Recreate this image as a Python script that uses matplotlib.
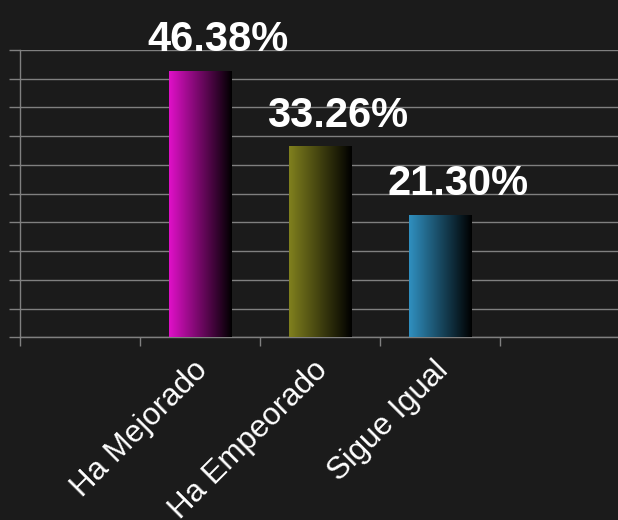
import numpy as np
import matplotlib
matplotlib.use('Agg')
import matplotlib.pyplot as plt
import matplotlib.transforms as mtransforms
from matplotlib.colors import LinearSegmentedColormap

categories = ['Ha Mejorado', 'Ha Empeorado', 'Sigue Igual']
values = [46.38, 33.26, 21.30]
labels = ['46.38%', '33.26%', '21.30%']
bar_colors = ['#e010c8', '#80801e', '#3090c0']

bg = '#1b1b1b'
grid_col = '#808080'
plt.rcParams['font.family'] = ['Liberation Sans', 'DejaVu Sans']

fig = plt.figure(figsize=(6.18, 5.2), dpi=100, facecolor=bg)
ax = fig.add_axes([20 / 618, (520 - 337.3) / 520, 598 / 618, 287.3 / 520])
ax.set_facecolor(bg)

x = np.arange(1, len(categories) + 1)
bars = ax.bar(x, values, width=0.52, color='none', zorder=3)

# horizontal gradient: colour on the left, black on the right
grad = np.linspace(0, 1, 256).reshape(1, -1)
for b, c in zip(bars, bar_colors):
    cmap = LinearSegmentedColormap.from_list('g', [c, '#000000'])
    x0, w, h = b.get_x(), b.get_width(), b.get_height()
    im = ax.imshow(grad, cmap=cmap, aspect='auto', extent=[x0, x0 + w, 0, h],
                   zorder=3, interpolation='bicubic')
    im.set_clip_path(b)

for xi, v, lab in zip(x, values, labels):
    ax.annotate(lab, (xi, v), xytext=(13, 14), textcoords='offset points',
                ha='center', va='baseline', fontsize=30, fontweight='bold',
                color='white', annotation_clip=False)

ax.set_xlim(-0.5, -0.5 + 598 / 120)
ax.set_ylim(0, 50)
ax.set_yticks(np.arange(0, 51, 5))
ax.set_yticklabels([])
ax.yaxis.grid(True, color=grid_col, linewidth=1.0, zorder=0)
ax.set_axisbelow(True)

ax.set_xticks([-0.5, 0.5, 1.5, 2.5, 3.5])
ax.set_xticklabels([])
ax.set_xticks(x, minor=True)
ax.set_xticklabels(categories, minor=True, rotation=45, ha='right',
                   va='top', rotation_mode='anchor', fontsize=22.5, color='white')
ax.tick_params(axis='x', which='minor', length=0, pad=13)
ax.tick_params(axis='x', which='major', length=6.5, color=grid_col, width=1)
ax.tick_params(axis='y', length=8, color=grid_col, width=1)
shift = mtransforms.ScaledTranslation(-7 / 100, 0, fig.dpi_scale_trans)
for t in ax.xaxis.get_minorticklabels():
    t.set_transform(t.get_transform() + shift)

for s in ['top', 'right']:
    ax.spines[s].set_visible(False)
for s in ['left', 'bottom']:
    ax.spines[s].set_color(grid_col)
    ax.spines[s].set_linewidth(1.0)

fig.savefig('out.png', dpi=100, facecolor=bg)
